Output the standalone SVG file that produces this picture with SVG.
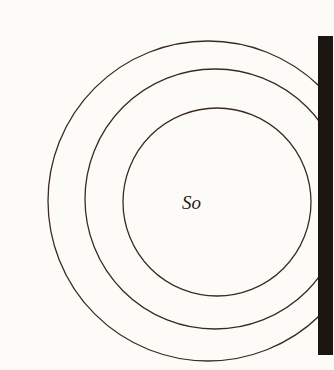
<svg xmlns="http://www.w3.org/2000/svg" width="334" height="370" viewBox="0 0 334 370">
<style>
.ring{fill:none;stroke:#3a2a1e;stroke-width:1.3}
.lbl{font-family:"Liberation Serif",serif;font-style:italic;font-size:19px;fill:#2a1e16}
</style>
<defs><clipPath id="c"><rect x="0" y="0" width="320" height="370"/></clipPath></defs>
<rect width="334" height="370" fill="#fdfbf8"/>
<g id="rings" clip-path="url(#c)">
<circle class="ring" cx="208" cy="201" r="160"/>
<circle class="ring" cx="215" cy="199" r="130"/>
<circle class="ring" cx="217" cy="202" r="94"/>
</g>
<rect id="wall" x="318" y="36" width="15" height="319" fill="#1c1510"/>
<text id="label" class="lbl" x="182" y="209">So</text>
</svg>
